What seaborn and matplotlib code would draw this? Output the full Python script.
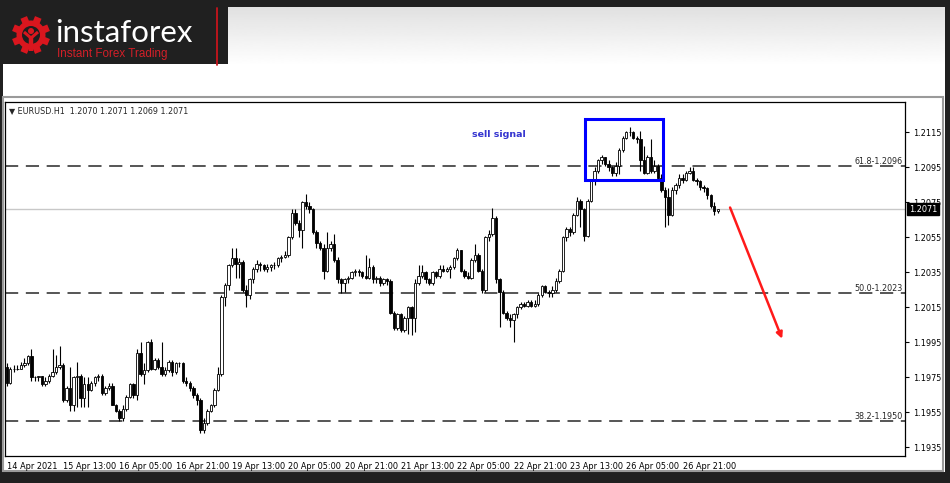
import numpy as np
import matplotlib.pyplot as plt
import matplotlib.patches as mpatches
import matplotlib.transforms as mtransforms
import seaborn as sns

sns.set_style("white")
plt.rcParams["font.family"] = ["DejaVu Sans"]
plt.rcParams["lines.scale_dashes"] = False

# EURUSD H1 bars, 14 Apr 2021 21:00 .. 27 Apr 2021
symbol_info = "\u25bc EURUSD.H1  1.2070 1.2071 1.2069 1.2071"
first_open = 1.1981

closes = [
    1.1972, 1.1980, 1.1980, 1.1980, 1.1982, 1.1983, 1.1987, 1.1975, 1.1975, 1.1976,
    1.1971, 1.1973, 1.1976, 1.1978, 1.1981, 1.1982, 1.1962, 1.1969, 1.1959, 1.1975,
    1.1976, 1.1963, 1.1971, 1.1968, 1.1972, 1.1975, 1.1976, 1.1966, 1.1969, 1.1970,
    1.1959, 1.1956, 1.1952, 1.1957, 1.1964, 1.1971, 1.1965, 1.1989, 1.1977, 1.1979,
    1.1995, 1.1980, 1.1985, 1.1981, 1.1977, 1.1979, 1.1984, 1.1978, 1.1983, 1.1983,
    1.1973, 1.1972, 1.1969, 1.1965, 1.1962, 1.1945, 1.1949, 1.1956, 1.1959, 1.1968,
    1.1977, 1.2021, 1.2028, 1.2039, 1.2043, 1.2040, 1.2041, 1.2025, 1.2022, 1.2031,
    1.2037, 1.2040, 1.2039, 1.2037, 1.2038, 1.2039, 1.2039, 1.2043, 1.2044, 1.2045,
    1.2055, 1.2069, 1.2063, 1.2059, 1.2075, 1.2073, 1.2071, 1.2058, 1.2052, 1.2049,
    1.2036, 1.2049, 1.2051, 1.2042, 1.2031, 1.2029, 1.2031, 1.2032, 1.2035, 1.2036,
    1.2035, 1.2033, 1.2032, 1.2038, 1.2031, 1.2032, 1.2029, 1.2031, 1.2030, 1.2012,
    1.2003, 1.2011, 1.2002, 1.2009, 1.2015, 1.2009, 1.2029, 1.2033, 1.2035, 1.2031,
    1.2029, 1.2035, 1.2033, 1.2037, 1.2036, 1.2037, 1.2038, 1.2043, 1.2048, 1.2036,
    1.2033, 1.2032, 1.2042, 1.2045, 1.2036, 1.2025, 1.2055, 1.2057, 1.2066, 1.2031,
    1.2024, 1.2012, 1.2009, 1.2008, 1.2011, 1.2015, 1.2017, 1.2016, 1.2018, 1.2016,
    1.2017, 1.2022, 1.2027, 1.2024, 1.2023, 1.2025, 1.2030, 1.2036, 1.2055, 1.2060,
    1.2058, 1.2068, 1.2076, 1.2071, 1.2056, 1.2076, 1.2087, 1.2093, 1.2099, 1.2101,
    1.2097, 1.2095, 1.2092, 1.2096, 1.2105, 1.2112, 1.2115, 1.2115, 1.2112, 1.2111,
    1.2099, 1.2092, 1.2101, 1.2093, 1.2096, 1.2089, 1.2082, 1.2078, 1.2068, 1.2082,
    1.2085, 1.2089, 1.2088, 1.2092, 1.2093, 1.2088, 1.2087, 1.2084, 1.2083, 1.2079,
    1.2073, 1.2070, 1.2071,
]

highs = [
    1.1983, 1.1981, 1.1982, 1.1982, 1.1984, 1.1986, 1.1988, 1.1991, 1.1976, 1.1976,
    1.1976, 1.1975, 1.1977, 1.1991, 1.1988, 1.1993, 1.1983, 1.1970, 1.1981, 1.1976,
    1.1984, 1.1977, 1.1975, 1.1975, 1.1973, 1.1976, 1.1977, 1.1977, 1.1970, 1.1972,
    1.1972, 1.1960, 1.1957, 1.1959, 1.1965, 1.1972, 1.1972, 1.1991, 1.1995, 1.1983,
    1.1996, 1.1997, 1.1986, 1.1986, 1.1995, 1.1981, 1.1985, 1.1985, 1.1984, 1.1984,
    1.1984, 1.1975, 1.1973, 1.1970, 1.1966, 1.1963, 1.1952, 1.1957, 1.1960, 1.1969,
    1.1981, 1.2022, 1.2029, 1.2040, 1.2049, 1.2049, 1.2043, 1.2042, 1.2028, 1.2032,
    1.2038, 1.2042, 1.2041, 1.2040, 1.2040, 1.2040, 1.2041, 1.2044, 1.2045, 1.2047,
    1.2056, 1.2071, 1.2071, 1.2065, 1.2076, 1.2080, 1.2075, 1.2072, 1.2059, 1.2053,
    1.2051, 1.2058, 1.2053, 1.2057, 1.2044, 1.2032, 1.2032, 1.2033, 1.2036, 1.2037,
    1.2037, 1.2036, 1.2045, 1.2043, 1.2039, 1.2033, 1.2033, 1.2032, 1.2032, 1.2031,
    1.2013, 1.2012, 1.2012, 1.2010, 1.2016, 1.2016, 1.2031, 1.2039, 1.2039, 1.2036,
    1.2032, 1.2036, 1.2036, 1.2039, 1.2039, 1.2038, 1.2039, 1.2044, 1.2049, 1.2048,
    1.2037, 1.2035, 1.2043, 1.2051, 1.2046, 1.2037, 1.2056, 1.2059, 1.2072, 1.2067,
    1.2032, 1.2025, 1.2013, 1.2011, 1.2012, 1.2016, 1.2018, 1.2018, 1.2019, 1.2019,
    1.2019, 1.2023, 1.2028, 1.2028, 1.2025, 1.2027, 1.2032, 1.2037, 1.2056, 1.2061,
    1.2061, 1.2069, 1.2078, 1.2077, 1.2072, 1.2077, 1.2088, 1.2095, 1.2100, 1.2102,
    1.2101, 1.2099, 1.2096, 1.2098, 1.2106, 1.2113, 1.2116, 1.2118, 1.2116, 1.2113,
    1.2116, 1.2107, 1.2102, 1.2111, 1.2099, 1.2097, 1.2091, 1.2084, 1.2083, 1.2084,
    1.2086, 1.2091, 1.2091, 1.2093, 1.2095, 1.2095, 1.2089, 1.2088, 1.2085, 1.2084,
    1.2080, 1.2075, 1.2071,
]

lows = [
    1.1970, 1.1971, 1.1978, 1.1979, 1.1980, 1.1981, 1.1982, 1.1973, 1.1973, 1.1973,
    1.1970, 1.1970, 1.1972, 1.1975, 1.1977, 1.1980, 1.1961, 1.1961, 1.1956, 1.1956,
    1.1958, 1.1958, 1.1958, 1.1958, 1.1967, 1.1970, 1.1973, 1.1965, 1.1965, 1.1968,
    1.1959, 1.1955, 1.1950, 1.1950, 1.1956, 1.1963, 1.1963, 1.1962, 1.1976, 1.1971,
    1.1978, 1.1979, 1.1979, 1.1980, 1.1976, 1.1976, 1.1978, 1.1976, 1.1977, 1.1981,
    1.1972, 1.1970, 1.1967, 1.1963, 1.1959, 1.1943, 1.1943, 1.1948, 1.1955, 1.1958,
    1.1967, 1.1976, 1.2016, 1.2025, 1.2038, 1.2032, 1.2032, 1.2024, 1.2015, 1.2020,
    1.2029, 1.2035, 1.2036, 1.2036, 1.2035, 1.2036, 1.2037, 1.2038, 1.2041, 1.2043,
    1.2044, 1.2054, 1.2062, 1.2055, 1.2049, 1.2071, 1.2069, 1.2057, 1.2049, 1.2048,
    1.2031, 1.2035, 1.2047, 1.2041, 1.2029, 1.2023, 1.2024, 1.2029, 1.2031, 1.2033,
    1.2033, 1.2032, 1.2031, 1.2031, 1.2029, 1.2029, 1.2027, 1.2028, 1.2028, 1.2011,
    1.2002, 1.2002, 1.2001, 1.2001, 1.2000, 1.1999, 1.2001, 1.2028, 1.2032, 1.2029,
    1.2028, 1.2028, 1.2032, 1.2032, 1.2035, 1.2035, 1.2032, 1.2037, 1.2042, 1.2035,
    1.2032, 1.2031, 1.2031, 1.2041, 1.2035, 1.2023, 1.2024, 1.2053, 1.2056, 1.2029,
    1.2004, 1.2011, 1.2008, 1.2004, 1.1995, 1.2009, 1.2014, 1.2015, 1.2015, 1.2015,
    1.2015, 1.2016, 1.2021, 1.2023, 1.2021, 1.2021, 1.2024, 1.2029, 1.2035, 1.2053,
    1.2056, 1.2057, 1.2067, 1.2061, 1.2053, 1.2055, 1.2075, 1.2085, 1.2092, 1.2097,
    1.2096, 1.2093, 1.2090, 1.2090, 1.2091, 1.2104, 1.2111, 1.2113, 1.2111, 1.2109,
    1.2093, 1.2091, 1.2091, 1.2092, 1.2092, 1.2088, 1.2081, 1.2061, 1.2062, 1.2067,
    1.2080, 1.2083, 1.2086, 1.2087, 1.2091, 1.2087, 1.2085, 1.2082, 1.2081, 1.2077,
    1.2072, 1.2068, 1.2069,
]

# H1 forex bars open where the previous bar closed
opens = [first_open] + closes[:-1]

tick_bars = [0, 16, 32, 48, 64, 80, 96, 112, 128, 144, 160, 176, 192]
tick_labels = ["14 Apr 2021", "15 Apr 13:00", "16 Apr 05:00", "16 Apr 21:00",
               "19 Apr 13:00", "20 Apr 05:00", "20 Apr 21:00", "21 Apr 13:00",
               "22 Apr 05:00", "22 Apr 21:00", "23 Apr 13:00", "26 Apr 05:00",
               "26 Apr 21:00"]
price_ticks = [1.2115, 1.2095, 1.2075, 1.2055, 1.2035, 1.2015, 1.1995, 1.1975,
               1.1955, 1.1935]

fib_levels = [1.2096, 1.2023, 1.1950]
fib_labels = ["61.8-1.2096", "50.0-1.2023", "38.2-1.1950"]
current_price = 1.2071

# ---------------------------------------------------------------- figure
fig = plt.figure(figsize=(9.5, 4.83), dpi=100)
fig.patch.set_facecolor("#202020")

# frame / header drawn in pixel units
bg = fig.add_axes([0, 0, 1, 1], zorder=0)
bg.axis("off")
bg.add_patch(mpatches.Rectangle((3, 64), 942, 408, facecolor="white", edgecolor="none"))
grad = np.linspace(0.88, 1.0, 60).reshape(-1, 1)
bg.imshow(grad, extent=(228, 945, 65, 7), cmap="gray", vmin=0, vmax=1, aspect="auto")
bg.plot([217, 217], [8, 65], color="#c8141c", lw=1.3)
bg.add_patch(mpatches.Rectangle((3, 97), 940, 374, facecolor="none",
                                edgecolor="#9a9a9a", lw=1.5))

# logo: gear + name
gx, gy = 31, 35
for a in np.deg2rad(np.arange(0, 360, 45) + 22.5):
    tooth = mpatches.Rectangle((gx - 3.5, gy - 19), 7, 8, facecolor="#d9161e",
                               edgecolor="none")
    tooth.set_transform(mtransforms.Affine2D().rotate_around(gx, gy, a) + bg.transData)
    bg.add_patch(tooth)
bg.add_patch(mpatches.Circle((gx, gy), 14.5, facecolor="#d9161e", edgecolor="none"))
bg.add_patch(mpatches.Circle((gx, gy), 9, facecolor="#1e1e1e", edgecolor="none"))
bg.add_patch(mpatches.Circle((gx, gy - 4), 3, facecolor="#d9161e", edgecolor="none"))
bg.plot([gx - 7, gx, gx + 7], [gy - 3, gy + 3, gy - 3], color="#d9161e", lw=2.2,
        solid_capstyle="butt")
bg.plot([gx, gx], [gy + 2, gy + 16], color="#d9161e", lw=3.2, solid_capstyle="butt")
bg.text(55, 41.5, "instaforex", color="white", fontsize=22.5, family="Lato",
        va="baseline", ha="left")
bg.text(57, 54.5, "Instant Forex Trading", color="#d31f28", fontsize=8.4,
        family="Liberation Sans", va="center", ha="left")
bg.set_xlim(0, 950)
bg.set_ylim(483, 0)

# ---------------------------------------------------------------- chart
ax = fig.add_axes([5 / 950, (483 - 456) / 483, 900 / 950, (456 - 102) / 483], zorder=2)
ax.set_facecolor("white")

x = np.arange(len(closes))
o = np.array(opens)
c = np.array(closes)
bull = c >= o

ax.vlines(x, lows, highs, color="black", lw=0.8, zorder=3)
ax.bar(x, np.abs(c - o), bottom=np.minimum(o, c), width=0.68,
       color=np.where(bull, "white", "black"), edgecolor="black", linewidth=0.6,
       zorder=4)

ax.axhline(current_price, color="#c8c8c8", lw=1, zorder=1)
for lvl, lab in zip(fib_levels, fib_labels):
    ax.axhline(lvl, color="#555555", lw=1.4, dashes=(9.5, 5.5), zorder=2)
    ax.text(0.997, lvl, lab, transform=ax.get_yaxis_transform(), ha="right",
            va="bottom", fontsize=5.8, zorder=6)

# sell signal box and arrow
ax.add_patch(mpatches.Rectangle((164.3, 1.20877), 22.1, 0.00349, fill=False,
                                edgecolor="#0000ff", lw=2.2, zorder=6))
ax.text(132.2, 1.2114, "sell signal", color="#3535d0", fontsize=6.8,
        fontweight="bold", va="center", ha="left")
ax.annotate("", xy=(220.3, 1.1997), xytext=(205.5, 1.2072),
            arrowprops=dict(arrowstyle="-|>", color="#ff1a1a", lw=1.8,
                            mutation_scale=9, shrinkA=0, shrinkB=0), zorder=6)

ax.text(0.004, 0.977, symbol_info, transform=ax.transAxes, fontsize=5.8,
        va="center", ha="left")

ax.set_xlim(-0.5, 255.2)
ax.set_ylim(1.19300, 1.21323)

ax.yaxis.tick_right()
ax.set_yticks(price_ticks)
ax.set_yticklabels([f"{p:.4f}" for p in price_ticks])
ax.set_xticks(tick_bars)
ax.set_xticklabels(tick_labels, ha="left")
ax.tick_params(axis="both", labelsize=5.9, length=3, width=0.8, direction="out",
               colors="black", pad=1.5)
ax.tick_params(axis="y", pad=2.5)
for s in ax.spines.values():
    s.set_color("black")
    s.set_linewidth(0.9)

# price tag sits on top of the 1.2075 label, as in the terminal
ax.text(1.004, current_price, f"{current_price:.4f}", transform=ax.get_yaxis_transform(),
        color="white", fontsize=5.9, va="center", ha="left", zorder=10, clip_on=False,
        bbox=dict(boxstyle="square,pad=0.2", fc="black", ec="black"))

fig.savefig("out.png", dpi=100, facecolor=fig.get_facecolor())
